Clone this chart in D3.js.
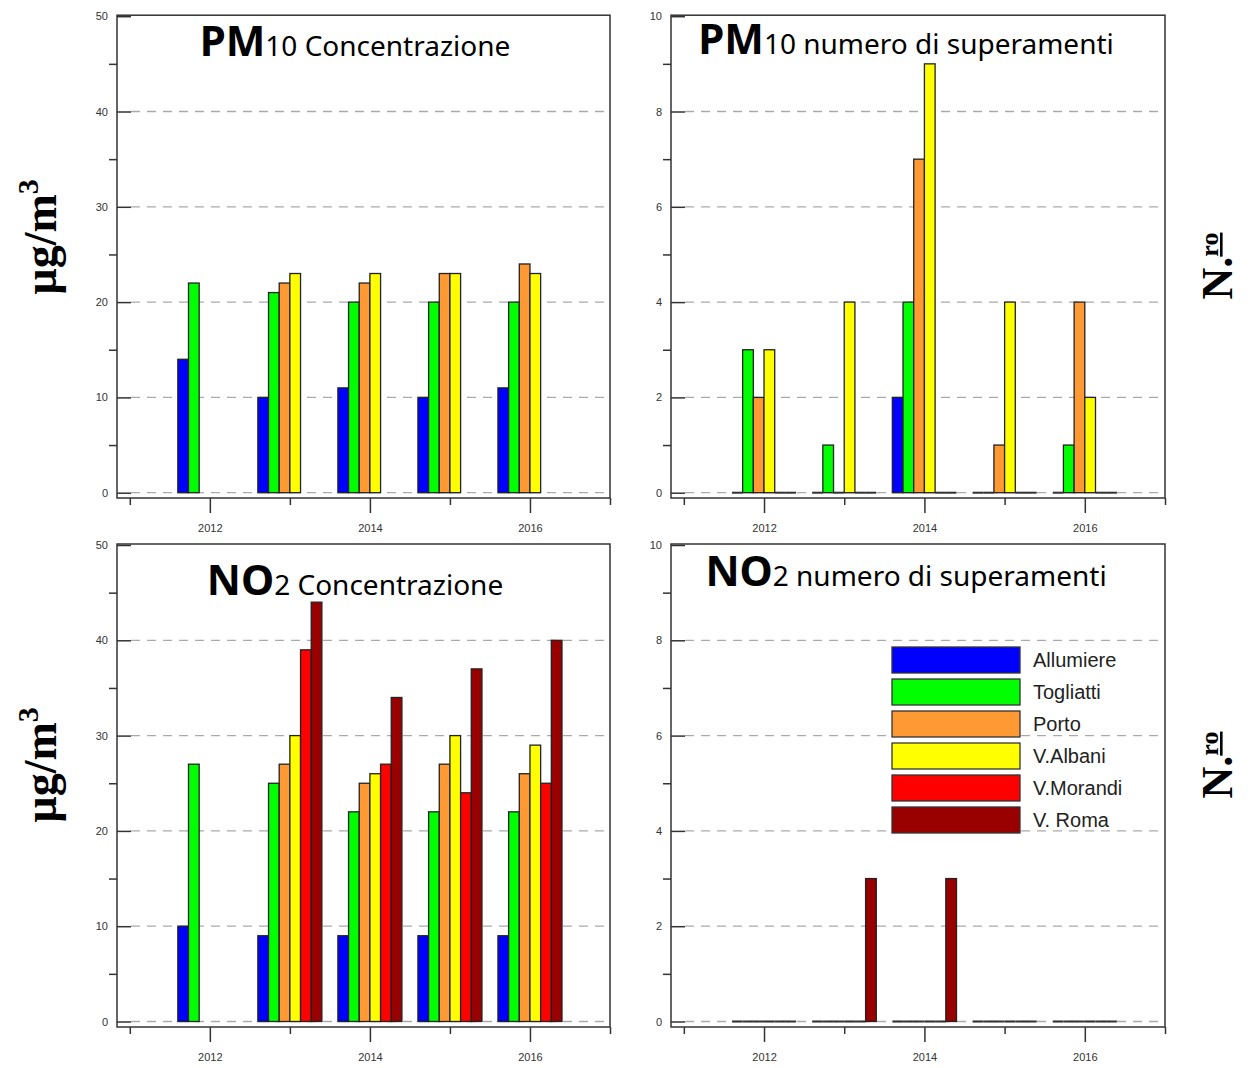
<!DOCTYPE html>
<html>
<head>
<meta charset="utf-8">
<script src="https://cdn.jsdelivr.net/npm/d3@7"></script>
<style>
  body { margin: 0; background: #fff; }
  text { font-family: "Liberation Sans", Arial, sans-serif; }
</style>
</head>
<body>
<div id="chart"></div>
<script>
var years = [2012, 2013, 2014, 2015, 2016];
var stations = ["Allumiere", "Togliatti", "Porto", "V.Albani", "V.Morandi", "V. Roma"];
var colors = ["#0000ff", "#00ff00", "#ff9933", "#ffff00", "#ff0000", "#990000"];

// PM10 concentrazione (ug/m3), one array per station, null = no data
var pm10Allumiere = [14, 10, 11, 10, 11];
var pm10Togliatti = [22, 21, 20, 20, 20];
var pm10Porto     = [null, 22, 22, 23, 24];
var pm10Albani    = [null, 23, 23, 23, 23];
var pm10Morandi   = [null, null, null, null, null];
var pm10Roma      = [null, null, null, null, null];

// PM10 numero di superamenti
var pm10ExcAllumiere = [0, 0, 2, 0, 0];
var pm10ExcTogliatti = [3, 1, 4, 0, 1];
var pm10ExcPorto     = [2, 0, 7, 1, 4];
var pm10ExcAlbani    = [3, 4, 9, 4, 2];
var pm10ExcMorandi   = [0, 0, 0, 0, 0];
var pm10ExcRoma      = [0, 0, 0, 0, 0];

// NO2 concentrazione (ug/m3)
var no2Allumiere = [10, 9, 9, 9, 9];
var no2Togliatti = [27, 25, 22, 22, 22];
var no2Porto     = [null, 27, 25, 27, 26];
var no2Albani    = [null, 30, 26, 30, 29];
var no2Morandi   = [null, 39, 27, 24, 25];
var no2Roma      = [null, 44, 34, 37, 40];

// NO2 numero di superamenti
var no2ExcAllumiere = [0, 0, 0, 0, 0];
var no2ExcTogliatti = [0, 0, 0, 0, 0];
var no2ExcPorto     = [0, 0, 0, 0, 0];
var no2ExcAlbani    = [0, 0, 0, 0, 0];
var no2ExcMorandi   = [0, 0, 0, 0, 0];
var no2ExcRoma      = [0, 3, 3, 0, 0];

var concTicks = [0, 10, 20, 30, 40, 50];
var concMinor = [5, 15, 25, 35, 45];
var excTicks = [0, 2, 4, 6, 8, 10];
var excMinor = [1, 3, 5, 7, 9];
var yearTicks = [2012, 2014, 2016];
var yearMinor = [2011, 2013, 2015, 2017];

var width = 1250, height = 1068;

var svg = d3.select("#chart").append("svg")
    .attr("width", width)
    .attr("height", height);

function drawPanel(p) {
    var x = d3.scaleLinear().domain([2010.84, 2017]).range([p.left, p.right]);
    var y = d3.scaleLinear().domain([0, p.max]).range([p.zero, p.zero - 476.5]);
    var groupW = x(2012.8) - x(2012);
    var inner = d3.scaleBand().domain(d3.range(stations.length)).range([-groupW / 2, groupW / 2]);

    var g = svg.append("g");

    // dashed grid
    g.append("g").selectAll("line")
        .data(p.ticks.slice(0, -1))
        .enter().append("line")
        .attr("x1", p.left + 14)
        .attr("x2", p.right - 3)
        .attr("y1", function (d) { return y(d); })
        .attr("y2", function (d) { return y(d); })
        .attr("stroke", "#aaa")
        .attr("stroke-width", 1.3)
        .attr("stroke-dasharray", "9 7");

    // bars
    var rows = [];
    p.series.forEach(function (vals, si) {
        vals.forEach(function (v, yi) {
            if (v !== null) rows.push({ s: si, year: years[yi], v: v });
        });
    });

    g.append("g").selectAll("rect")
        .data(rows.filter(function (d) { return d.v > 0; }))
        .enter().append("rect")
        .attr("x", function (d) { return x(d.year) + inner(d.s); })
        .attr("y", function (d) { return y(d.v); })
        .attr("width", inner.bandwidth())
        .attr("height", function (d) { return y(0) - y(d.v); })
        .attr("fill", function (d) { return colors[d.s]; })
        .attr("stroke", "#222")
        .attr("stroke-width", 1.3);

    // zero values drawn as flat bars on the baseline
    g.append("g").selectAll("line")
        .data(rows.filter(function (d) { return d.v === 0; }))
        .enter().append("line")
        .attr("x1", function (d) { return x(d.year) + inner(d.s); })
        .attr("x2", function (d) { return x(d.year) + inner(d.s) + inner.bandwidth(); })
        .attr("y1", y(0))
        .attr("y2", y(0))
        .attr("stroke", "#333")
        .attr("stroke-width", 2);

    // y axis: major ticks inward, minor outward
    var yMajor = g.append("g")
        .attr("transform", "translate(" + p.left + ",0)")
        .call(d3.axisLeft(y).tickValues(p.ticks).tickSizeInner(-14).tickSizeOuter(0).tickPadding(9));
    yMajor.select(".domain").remove();
    var yMin = g.append("g")
        .attr("transform", "translate(" + p.left + ",0)")
        .call(d3.axisLeft(y).tickValues(p.minor).tickSize(8).tickFormat(""));
    yMin.select(".domain").remove();

    // x axis
    var xMajor = g.append("g")
        .attr("transform", "translate(0," + p.axisY + ")")
        .call(d3.axisBottom(x).tickValues(yearTicks).tickSize(15).tickPadding(11).tickFormat(d3.format("d")));
    xMajor.select(".domain").remove();
    var xMin = g.append("g")
        .attr("transform", "translate(0," + p.axisY + ")")
        .call(d3.axisBottom(x).tickValues(yearMinor).tickSize(7).tickFormat(""));
    xMin.select(".domain").remove();

    g.selectAll(".tick line").attr("stroke", "#333").attr("stroke-width", 1.5);
    g.selectAll(".tick text")
        .attr("font-family", "'Liberation Sans', Arial, sans-serif")
        .attr("font-size", 11)
        .attr("fill", "#333");

    // frame
    g.append("rect")
        .attr("x", p.left)
        .attr("y", y(p.max) - 1)
        .attr("width", p.right - p.left)
        .attr("height", p.axisY - y(p.max) + 1)
        .attr("fill", "none")
        .attr("stroke", "#333")
        .attr("stroke-width", 1.5);

    // title
    var t = g.append("text")
        .attr("x", p.titleX)
        .attr("y", p.titleY)
        .attr("text-anchor", "middle")
        .attr("fill", "#000")
        .style("font-family", "'Noto Sans', sans-serif");
    t.append("tspan")
        .attr("font-size", 42)
        .attr("font-weight", "bold")
        .text(p.titleBig);
    t.append("tspan")
        .attr("font-size", 28)
        .text(p.titleSmall);
}

drawPanel({
    left: 117, right: 610, zero: 492.7, axisY: 498, max: 50,
    ticks: concTicks, minor: concMinor,
    series: [pm10Allumiere, pm10Togliatti, pm10Porto, pm10Albani, pm10Morandi, pm10Roma],
    titleBig: "PM", titleSmall: "10 Concentrazione", titleX: 355, titleY: 56
});
drawPanel({
    left: 671, right: 1165, zero: 492.7, axisY: 498, max: 10,
    ticks: excTicks, minor: excMinor,
    series: [pm10ExcAllumiere, pm10ExcTogliatti, pm10ExcPorto, pm10ExcAlbani, pm10ExcMorandi, pm10ExcRoma],
    titleBig: "PM", titleSmall: "10 numero di superamenti", titleX: 906, titleY: 54
});
drawPanel({
    left: 117, right: 610, zero: 1021.5, axisY: 1027, max: 50,
    ticks: concTicks, minor: concMinor,
    series: [no2Allumiere, no2Togliatti, no2Porto, no2Albani, no2Morandi, no2Roma],
    titleBig: "NO", titleSmall: "2 Concentrazione", titleX: 355, titleY: 595
});
drawPanel({
    left: 671, right: 1165, zero: 1021.5, axisY: 1027, max: 10,
    ticks: excTicks, minor: excMinor,
    series: [no2ExcAllumiere, no2ExcTogliatti, no2ExcPorto, no2ExcAlbani, no2ExcMorandi, no2ExcRoma],
    titleBig: "NO", titleSmall: "2 numero di superamenti", titleX: 906, titleY: 586
});

// y axis titles
[237, 765].forEach(function (cy) {
    var t = svg.append("text")
        .attr("transform", "translate(56," + cy + ")rotate(-90)")
        .attr("text-anchor", "middle")
        .style("font-family", "'Liberation Serif', 'Times New Roman', serif")
        .attr("font-weight", "bold")
        .attr("font-size", 46)
        .attr("fill", "#000");
    t.append("tspan").text("\u00b5g/m");
    t.append("tspan").attr("font-size", 30).attr("dy", -18).text("3");
});

[266, 765].forEach(function (cy) {
    var t = svg.append("text")
        .attr("transform", "translate(1232," + cy + ")rotate(-90)")
        .attr("text-anchor", "middle")
        .style("font-family", "'Liberation Serif', 'Times New Roman', serif")
        .attr("font-weight", "bold")
        .attr("font-size", 44)
        .attr("fill", "#000");
    t.append("tspan").text("N.");
    t.append("tspan").attr("font-size", 26).attr("dy", -14)
        .style("text-decoration", "underline")
        .text("ro");
});

// legend (bottom-right panel)
var legend = svg.append("g")
    .selectAll("g")
    .data(stations)
    .enter().append("g")
    .attr("transform", function (d, i) { return "translate(892," + (647 + i * 32) + ")"; });

legend.append("rect")
    .attr("width", 128)
    .attr("height", 26)
    .attr("fill", function (d, i) { return colors[i]; })
    .attr("stroke", "#333")
    .attr("stroke-width", 1.3);

legend.append("text")
    .attr("x", 141)
    .attr("y", 13)
    .attr("dy", "0.35em")
    .attr("font-size", 20)
    .attr("fill", "#222")
    .text(function (d) { return d; });
</script>
</body>
</html>
